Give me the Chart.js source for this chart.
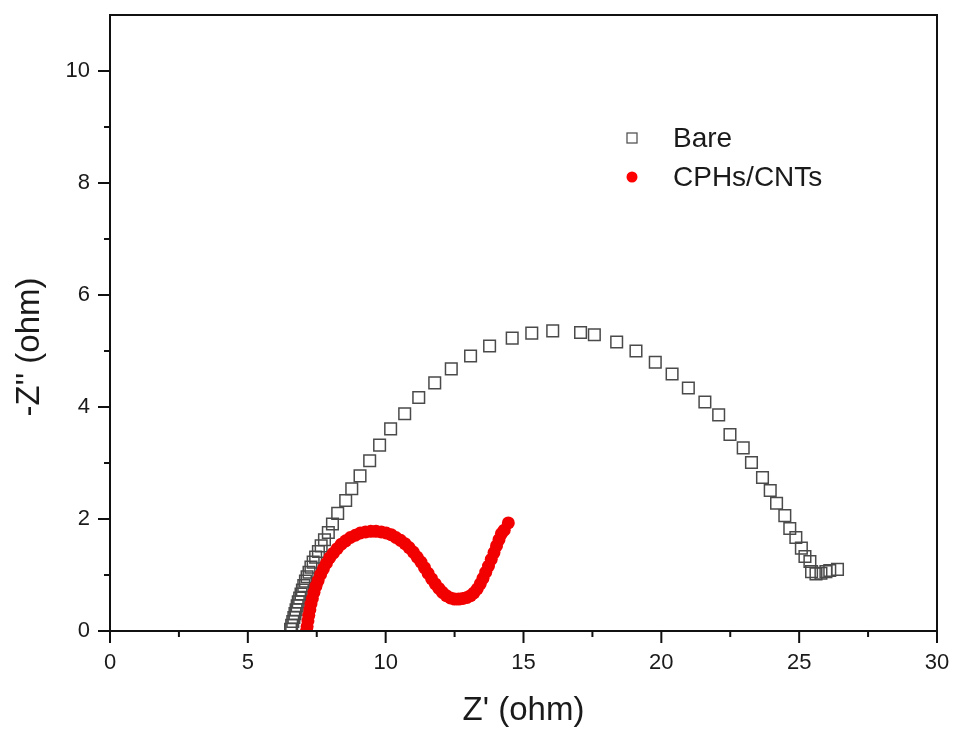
<!DOCTYPE html>
<html>
<head>
<meta charset="utf-8">
<script src="https://cdn.jsdelivr.net/npm/chart.js@4/dist/chart.umd.min.js"></script>
<style>
  html, body { margin: 0; padding: 0; background: #fff; }
  #wrap { width: 954px; height: 733px; }
</style>
</head>
<body>
<div id="wrap"><canvas id="nyquist"></canvas></div>
<script>
// Z' (ohm) / -Z'' (ohm)
const bareX = [6.55, 6.59, 6.63, 6.67, 6.71, 6.75, 6.79, 6.83, 6.88, 6.93, 6.98, 7.03, 7.09, 7.15, 7.22, 7.29, 7.37, 7.46, 7.56, 7.66, 7.78, 7.92, 8.07, 8.26,
  8.55, 8.77, 9.07, 9.42, 9.78, 10.18, 10.69, 11.20, 11.78, 12.38, 13.08, 13.77, 14.59, 15.30, 16.06,
  17.07, 17.57, 18.38, 19.08, 19.78, 20.39, 20.98, 21.58, 22.08, 22.49, 22.97, 23.27, 23.67, 23.95, 24.18,
  24.48, 24.66, 24.88, 25.08, 25.21, 25.39, 25.45, 25.61, 25.79, 25.97, 26.11, 26.39];
const bareY = [0.03, 0.10, 0.17, 0.24, 0.31, 0.38, 0.45, 0.52, 0.59, 0.66, 0.73, 0.81, 0.89, 0.97, 1.05, 1.14, 1.23, 1.32, 1.42, 1.52, 1.63, 1.76, 1.91, 2.10,
  2.33, 2.54, 2.77, 3.04, 3.32, 3.61, 3.88, 4.17, 4.43, 4.68, 4.91, 5.09, 5.23, 5.32, 5.36,
  5.33, 5.29, 5.16, 5.00, 4.80, 4.59, 4.34, 4.09, 3.86, 3.51, 3.27, 3.01, 2.74, 2.51, 2.28,
  2.06, 1.83, 1.67, 1.48, 1.33, 1.24, 1.06, 1.02, 1.03, 1.06, 1.08, 1.10];

const cntX = [7.13, 7.15, 7.18, 7.21, 7.25, 7.29, 7.34, 7.40, 7.47, 7.55, 7.64, 7.74, 7.85, 7.97, 8.10, 8.24, 8.39, 8.55, 8.72, 8.90,
  9.08, 9.27, 9.46, 9.65, 9.84, 10.02, 10.20, 10.37, 10.54, 10.70, 10.85, 11.00, 11.14, 11.28, 11.41, 11.54, 11.67, 11.80, 11.93, 12.06,
  12.20, 12.35, 12.50, 12.65, 12.80, 12.95, 13.08, 13.20, 13.32, 13.43, 13.53, 13.63, 13.73, 13.83, 13.93, 14.02, 14.11, 14.20, 14.30, 14.45];
const cntY = [0.00, 0.08, 0.18, 0.28, 0.38, 0.48, 0.58, 0.69, 0.80, 0.90, 1.01, 1.11, 1.21, 1.31, 1.39, 1.47, 1.55, 1.61, 1.67, 1.71,
  1.75, 1.77, 1.78, 1.78, 1.77, 1.75, 1.72, 1.67, 1.62, 1.56, 1.49, 1.41, 1.32, 1.23, 1.13, 1.03, 0.93, 0.84, 0.76, 0.69,
  0.63, 0.59, 0.57, 0.57, 0.58, 0.60, 0.63, 0.68, 0.75, 0.84, 0.94, 1.05, 1.16, 1.28, 1.40, 1.52, 1.63, 1.74, 1.80, 1.93];

const seriesNames = ['Bare', 'CPHs/CNTs'];
const xMajor = [0, 5, 10, 15, 20, 25, 30];
const xMinor = [2.5, 7.5, 12.5, 17.5, 22.5, 27.5];
const yMajor = [0, 2, 4, 6, 8, 10];
const yMinor = [1, 3, 5, 7, 9];

const FONT = '"Liberation Sans", Arial, sans-serif';
const INK = '#1a1a1a';

function toPoints(xs, ys) {
  return xs.map((x, i) => ({ x: x, y: ys[i] }));
}

// frame, outward tick marks, axis titles and the inset legend
const framePlugin = {
  id: 'frame',
  afterDraw(chart) {
    const { ctx, chartArea: a, scales } = chart;
    ctx.save();
    ctx.strokeStyle = '#111';
    ctx.lineWidth = 2;
    ctx.strokeRect(a.left, a.top, a.right - a.left, a.bottom - a.top);

    ctx.beginPath();
    xMajor.forEach(v => { const p = scales.x.getPixelForValue(v); ctx.moveTo(p, a.bottom); ctx.lineTo(p, a.bottom + 12); });
    xMinor.forEach(v => { const p = scales.x.getPixelForValue(v); ctx.moveTo(p, a.bottom); ctx.lineTo(p, a.bottom + 6); });
    yMajor.forEach(v => { const p = scales.y.getPixelForValue(v); ctx.moveTo(a.left, p); ctx.lineTo(a.left - 12, p); });
    yMinor.forEach(v => { const p = scales.y.getPixelForValue(v); ctx.moveTo(a.left, p); ctx.lineTo(a.left - 6, p); });
    ctx.stroke();

    // axis titles
    ctx.fillStyle = INK;
    ctx.font = '33px ' + FONT;
    ctx.textAlign = 'center';
    ctx.textBaseline = 'middle';
    ctx.fillText("Z' (ohm)", (a.left + a.right) / 2, 711);
    ctx.save();
    ctx.translate(30, 347);
    ctx.rotate(-Math.PI / 2);
    ctx.fillText("-Z'' (ohm)", 0, 0);
    ctx.restore();

    // legend
    ctx.font = '28px ' + FONT;
    ctx.textAlign = 'left';
    ctx.strokeStyle = '#555';
    ctx.lineWidth = 1.3;
    ctx.strokeRect(627, 133, 10, 10);
    ctx.fillText(seriesNames[0], 673, 139);
    ctx.fillStyle = '#f00';
    ctx.beginPath();
    ctx.arc(632, 177, 5.5, 0, Math.PI * 2);
    ctx.fill();
    ctx.fillStyle = INK;
    ctx.fillText(seriesNames[1], 673, 178);
    ctx.restore();
  }
};

new Chart(document.getElementById('nyquist'), {
  type: 'scatter',
  data: {
    datasets: [
      {
        label: seriesNames[1],
        data: toPoints(cntX, cntY),
        pointStyle: 'circle',
        pointRadius: 6.5,
        pointBackgroundColor: '#f20000',
        pointBorderWidth: 0,
        order: 0
      },
      {
        label: seriesNames[0],
        data: toPoints(bareX, bareY),
        pointStyle: 'rect',
        pointRadius: 8.2,
        pointBackgroundColor: 'rgba(255,255,255,0)',
        pointBorderColor: '#4a4a4a',
        pointBorderWidth: 1.5,
        order: 1
      }
    ]
  },
  options: {
    responsive: true,
    maintainAspectRatio: false,
    animation: false,
    events: [],
    layout: { padding: { top: 15, right: 17, left: 0, bottom: 0 } },
    plugins: {
      legend: { display: false },
      tooltip: { enabled: false }
    },
    scales: {
      x: {
        type: 'linear',
        min: 0,
        max: 30,
        grid: { display: false, drawTicks: false },
        border: { display: false },
        ticks: {
          stepSize: 5,
          padding: 19,
          color: INK,
          font: { family: FONT, size: 22 },
          maxRotation: 0
        },
        afterFit(s) { s.height = 102; s.paddingLeft = 0; s.paddingRight = 0; }
      },
      y: {
        type: 'linear',
        min: 0,
        max: 11,
        grid: { display: false, drawTicks: false },
        border: { display: false },
        ticks: {
          stepSize: 2,
          includeBounds: false,
          padding: 20,
          color: INK,
          font: { family: FONT, size: 22 }
        },
        afterFit(s) { s.width = 110; s.paddingTop = 0; s.paddingBottom = 0; }
      }
    }
  },
  plugins: [framePlugin]
});
</script>
</body>
</html>
